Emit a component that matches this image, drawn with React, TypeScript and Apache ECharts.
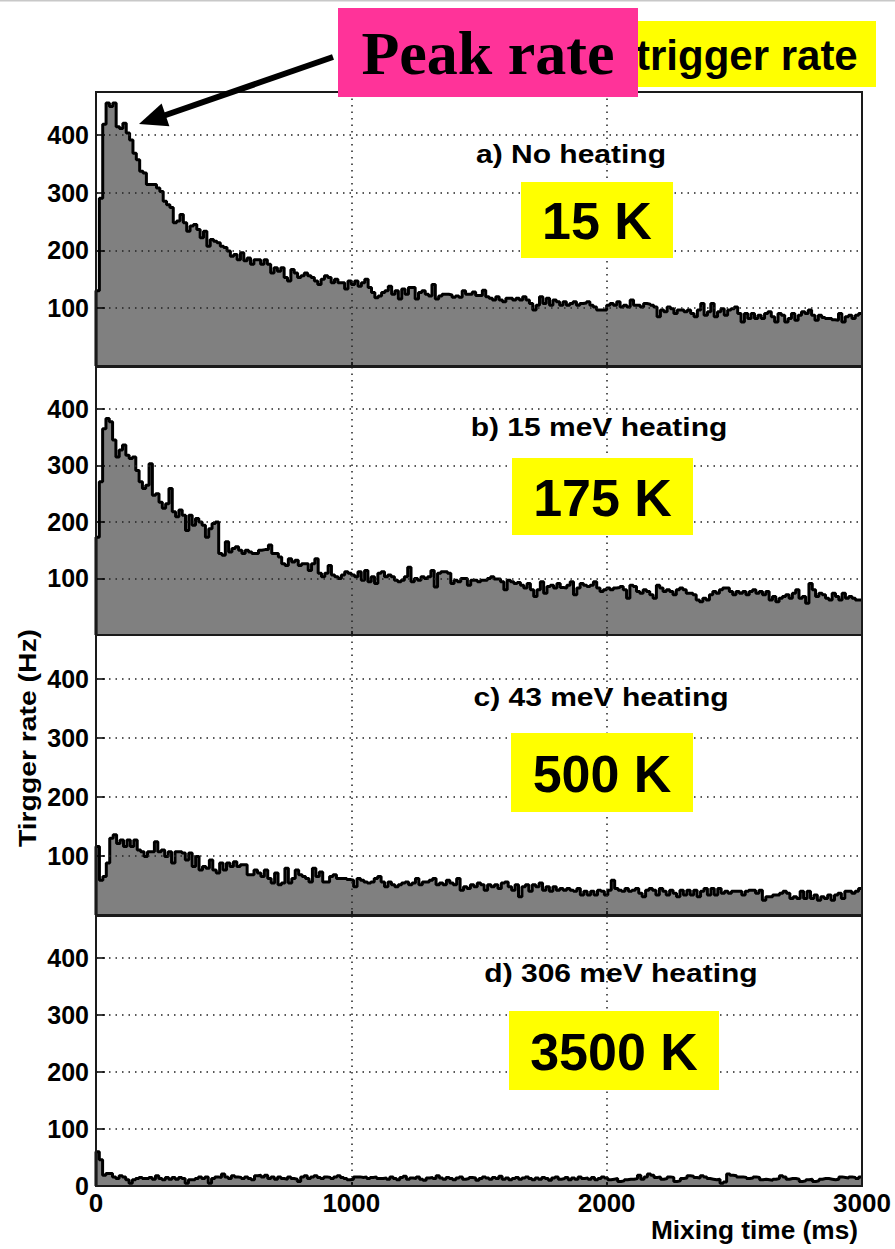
import { useEffect, useRef } from "react";
import * as echarts from "echarts";

// Mixing-time axis (ms) and tick labels
const TIME_MAX = 3000;
const X_TICK_LABELS = [0, 1000, 2000, 3000];
const Y_TICK_LABELS = [100, 200, 300, 400];
const RATE_MAX = 474;

const panelLabels = ["a) No heating", "b) 15 meV heating", "c) 43 meV heating", "d) 306 meV heating"];
const temperatures = ["15 K", "175 K", "500 K", "3500 K"];

// Trigger rate (Hz) per time bin, equal-width bins spanning 0-3000 ms
const rateNoHeating = [
  130, 290, 418, 455, 449, 455, 414, 411, 420, 403,
  391, 368, 357, 337, 334, 314, 314, 314, 308, 302,
  285, 279, 274, 248, 251, 262, 248, 233, 242, 245,
  236, 222, 233, 207, 219, 216, 213, 207, 205, 199,
  190, 193, 184, 196, 182, 187, 176, 184, 184, 176,
  184, 176, 161, 170, 164, 170, 153, 147, 167, 161,
  153, 156, 161, 156, 153, 147, 141, 150, 156, 153,
  144, 150, 144, 144, 133, 147, 141, 147, 138, 144,
  150, 136, 127, 118, 121, 127, 130, 138, 124, 130,
  116, 133, 124, 136, 136, 116, 127, 130, 124, 121,
  141, 116, 121, 124, 124, 123, 119, 121, 119, 130,
  124, 124,
  128, 122, 122, 131, 120, 117, 114, 120, 114, 111,
  117, 117, 114, 117, 114, 120, 114, 108, 97, 105,
  120, 108, 117, 105, 114, 111, 105, 111, 105, 108,
  111, 105, 108, 109, 111, 105, 102, 97, 97, 97,
  105, 108, 105, 111, 102, 105, 102, 114, 105, 105,
  102, 108, 107, 105, 102, 85, 97, 94, 102, 99,
  91, 97, 97, 94, 97, 91, 85, 97, 108, 88,
  94, 108, 85, 94, 99, 88, 97, 99, 102, 91,
  76, 91, 82, 91, 82, 88, 82, 91, 94, 85,
  76, 91, 88, 76, 82, 91, 79, 88, 94, 91,
  97, 88, 79, 88, 84, 82, 82, 80, 79, 91,
  76, 85, 88, 82, 88, 91,
];

const rate15meV = [
  173, 271, 365, 383, 377, 345, 315, 327, 336, 318,
  312, 315, 291, 271, 259, 265, 303, 247, 250, 235,
  224, 232, 259, 218, 209, 221, 212, 185, 212, 194,
  206, 200, 194, 173, 188, 197, 200, 144, 141, 165,
  147, 153, 156, 150, 144, 150, 147, 144, 144, 150,
  151, 151, 159, 144, 144, 138, 126, 123, 135, 129,
  132, 123, 126, 126, 114, 126, 135, 109, 103, 109,
  123, 106, 103, 100, 106, 112, 109, 106, 103, 112,
  97, 114, 94, 103, 91, 109, 112, 103, 106, 103,
  97, 94, 97, 103, 120, 94, 100, 97, 103, 100,
  103, 114, 85, 109, 112, 112, 109, 91, 97, 94,
  100, 100, 88, 97,
  97, 94, 97, 97, 100, 103, 99, 99, 94, 80,
  97, 94, 91, 93, 88, 83, 91, 80, 68, 80,
  94, 74, 86, 88, 83, 91, 84, 83, 88, 94,
  71, 83, 91, 88, 86, 88, 94, 83, 77, 80,
  83, 80, 83, 84, 86, 80, 65, 88, 86, 77,
  74, 80, 77, 71, 65, 88, 83, 77, 80, 77,
  71, 80, 83, 80, 74, 74, 71, 62, 59, 65,
  62, 71, 77, 74, 80, 83, 83, 77, 71, 77,
  74, 77, 71, 77, 80, 74, 77, 71, 77, 62,
  68, 59, 65, 68, 71, 65, 74, 80, 65, 68,
  56, 91, 80, 68, 74, 71, 65, 62, 74, 68,
  62, 74, 65, 68, 65, 62, 62,
];

const rate43meV = [
  116, 59, 65, 88, 130, 136, 121, 127, 116, 127,
  116, 127, 110, 107, 99, 107, 107, 124, 107, 110,
  99, 107, 88, 107, 107, 105, 93, 105, 82, 99,
  76, 82, 79, 93, 76, 71, 88, 76, 88, 82,
  90, 82, 85, 85, 68, 68, 76, 71, 65, 76,
  62, 54, 71, 51, 54, 79, 54, 62, 76, 68,
  65, 62, 56, 79, 65, 73, 56, 56, 65, 68,
  62, 62, 62, 60, 59, 48, 62, 59, 56, 54,
  56, 62, 65,
  56, 48, 56, 51, 48, 51, 54, 56, 51, 54,
  62, 51, 56, 56, 59, 62, 51, 54, 51, 59,
  54, 51, 62, 42, 48, 45, 51, 48, 54, 51,
  42, 51, 48, 51, 45, 54, 56, 48, 42, 51,
  31, 48, 51, 40, 51, 48, 54, 42, 48, 40,
  48, 42, 45, 42, 45, 42, 40, 45, 34, 40,
  34, 40, 34, 42, 40, 34, 42, 59, 45, 42,
  40, 45, 40, 42, 45, 37, 31, 42, 45, 42,
  34, 45, 40, 34, 42, 37, 31, 42, 34, 42,
  34, 42, 31, 40, 45, 34, 45, 34, 45, 37,
  40, 37, 40, 40, 40, 34, 40, 42, 42, 37,
  42, 25, 31, 31, 34, 34, 37, 40, 37, 28,
  31, 28, 40, 28, 40, 28, 34, 25, 31, 28,
  34, 25, 34, 37, 28, 40, 40, 37, 40, 45,
];

const rate306meV = [
  60, 46, 19, 22, 22, 16, 13, 18, 16, 11,
  5, 11, 13, 15, 13, 13, 15, 12, 18, 13,
  11, 15, 12, 15, 12, 15, 13, 5, 11, 11,
  13, 16, 13, 16, 5, 13, 16, 15, 21, 16,
  13, 18, 16, 15, 13, 16, 13, 11, 18, 19,
  16, 19, 13, 16, 12, 16, 13, 12, 16, 13,
  12, 8, 16, 18, 13, 16, 18, 15, 13, 16,
  15, 13, 16, 18, 15, 13, 11, 12, 16, 16,
  15, 16, 13, 15, 16, 13, 13,
  14, 12, 16, 13, 11, 15, 17, 12, 14, 13,
  16, 12, 10, 14, 15, 13, 18, 14, 12, 15,
  13, 11, 14, 16, 12, 13, 15, 14, 10, 13,
  16, 14, 12, 15, 13, 17, 12, 14, 11, 13,
  15, 12, 14, 16, 13, 11, 14, 12, 15, 13,
  10, 14, 16, 12, 13, 15, 11, 14, 12, 16,
  13, 14, 12, 15, 11, 13,
  16, 14, 11, 12, 13, 8, 9, 11, 12, 12,
  13, 19, 12, 16, 21, 19, 15, 16, 12, 13,
  16, 15, 8, 9, 13, 14, 18, 17, 15, 14,
  18, 16, 13, 12, 11, 12, 5, 7, 21, 19,
  18, 16, 16, 15, 13, 14, 16, 15, 11, 12,
  11, 10, 12, 13, 18, 16, 12, 13, 13, 12,
  8, 9, 11, 12, 8, 9, 12, 13, 13, 12,
  11, 12, 16, 15, 14, 16, 15, 13, 16,
];

const panelRates = [rateNoHeating, rate15meV, rate43meV, rate306meV];

// Histogram outline: left bin edges with the bin content, closed at the right edge
function histogramPoints(values: number[]): number[][] {
  const width = TIME_MAX / values.length;
  const pts: number[][] = [[0, 0]];
  values.forEach((v, i) => pts.push([i * width, v]));
  pts.push([TIME_MAX, values[values.length - 1]]);
  return pts;
}

const SANS = "'Liberation Sans', Arial, Helvetica, sans-serif";
const SERIF = "'Liberation Serif', 'Times New Roman', serif";

// Pixel boxes of the four stacked panels
const PANELS = [
  { left: 96, top: 92, width: 766, height: 274 },
  { left: 96, top: 367, width: 766, height: 268 },
  { left: 96, top: 635, width: 766, height: 280 },
  { left: 96, top: 916, width: 766, height: 270 },
];

const LABEL_POS = [
  { x: 571, y: 154 },
  { x: 599, y: 427 },
  { x: 601, y: 697 },
  { x: 621, y: 973 },
];

const TEMP_BOX = [
  { x: 521, y: 182, w: 152, h: 76 },
  { x: 512, y: 458, w: 181, h: 77 },
  { x: 511, y: 733, w: 182, h: 79 },
  { x: 509, y: 1011, w: 210, h: 79 },
];

const dotted = { color: "#222", width: 1.5, type: [1.5, 5] as number[] };

export default function App() {
  const ref = useRef<HTMLDivElement>(null);

  useEffect(() => {
    if (!ref.current) return;
    const chart = echarts.init(ref.current, null, { renderer: "svg" });

    const grids = PANELS.map((p) => ({ ...p, containLabel: false }));

    const xAxes = PANELS.map((_, i) => ({
      type: "value",
      gridIndex: i,
      min: 0,
      max: TIME_MAX,
      interval: 1000,
      axisLine: { show: false },
      axisTick: { show: true, inside: true, length: 4, lineStyle: { color: "#000", width: 1.5 } },
      axisLabel: {
        show: i === 3,
        margin: 4,
        color: "#000",
        fontSize: 26,
        fontWeight: "bold",
        fontFamily: SANS,
        showMinLabel: true,
        showMaxLabel: true,
        formatter: (v: number) => (X_TICK_LABELS.includes(v) ? String(v) : ""),
      },
      splitLine: { show: true, lineStyle: dotted },
      z: 10,
    }));

    const yAxes = PANELS.map((_, i) => ({
      type: "value",
      gridIndex: i,
      min: 0,
      max: RATE_MAX,
      interval: 100,
      axisLine: { show: false },
      axisTick: { show: true, inside: true, length: 9, lineStyle: { color: "#000", width: 1.5 } },
      axisLabel: {
        margin: 7,
        color: "#000",
        fontSize: 25,
        fontWeight: "bold",
        fontFamily: SANS,
        showMinLabel: i === 3,
        showMaxLabel: false,
        formatter: (v: number) =>
          Y_TICK_LABELS.includes(v) || (v === 0 && i === 3) ? String(v) : "",
      },
      splitLine: { show: true, lineStyle: dotted },
      z: 10,
    }));

    const series = panelRates.map((vals, i) => ({
      type: "line",
      xAxisIndex: i,
      yAxisIndex: i,
      step: "end",
      symbol: "none",
      silent: true,
      data: histogramPoints(vals),
      lineStyle: { color: "#000", width: 3 },
      areaStyle: { color: "#808080", opacity: 1 },
      z: 2,
    }));

    const graphics: any[] = [
      {
        type: "line",
        shape: { x1: 0, y1: 0.5, x2: 895, y2: 0.5 },
        style: { stroke: "#c8c8c8", lineWidth: 2 },
        z: 50,
      },
    ];

    PANELS.forEach((p, i) => {
      graphics.push({
        type: "rect",
        shape: { x: p.left, y: p.top, width: p.width, height: p.height },
        style: { fill: "none", stroke: "#1a1a1a", lineWidth: 2 },
        z: 60,
      });
      graphics.push({
        type: "text",
        x: LABEL_POS[i].x,
        y: LABEL_POS[i].y,
        scaleX: 1.2,
        style: {
          text: panelLabels[i],
          fill: "#000",
          fontSize: 25,
          fontWeight: "bold",
          fontFamily: SANS,
          align: "center",
          verticalAlign: "middle",
        },
        z: 70,
      });
      const b = TEMP_BOX[i];
      graphics.push({
        type: "rect",
        shape: { x: b.x, y: b.y, width: b.w, height: b.h },
        style: { fill: "#FFFF00" },
        z: 70,
      });
      graphics.push({
        type: "text",
        x: b.x + b.w / 2,
        y: b.y + b.h / 2 + 1,
        style: {
          text: temperatures[i],
          fill: "#000",
          fontSize: 52,
          fontWeight: "bold",
          fontFamily: SANS,
          align: "center",
          verticalAlign: "middle",
        },
        z: 71,
      });
    });

    // Axis titles
    graphics.push({
      type: "text",
      x: 28,
      y: 738,
      rotation: Math.PI / 2,
      scaleX: 1.18,
      style: {
        text: "Tirgger rate (Hz)",
        fill: "#000",
        fontSize: 24,
        fontWeight: "bold",
        fontFamily: SANS,
        align: "center",
        verticalAlign: "middle",
      },
      z: 70,
    });
    graphics.push({
      type: "text",
      x: 858,
      y: 1230,
      scaleX: 1.05,
      style: {
        text: "Mixing time (ms)",
        fill: "#000",
        fontSize: 25,
        fontWeight: "bold",
        fontFamily: SANS,
        align: "right",
        verticalAlign: "middle",
      },
      z: 70,
    });

    // Title boxes and arrow
    graphics.push({
      type: "rect",
      shape: { x: 634, y: 21, width: 242, height: 66 },
      style: { fill: "#FFFF00" },
      z: 80,
    });
    graphics.push({
      type: "text",
      x: 636,
      y: 55,
      style: {
        text: "trigger rate",
        fill: "#000",
        fontSize: 42,
        fontWeight: "bold",
        fontFamily: SANS,
        align: "left",
        verticalAlign: "middle",
      },
      z: 81,
    });
    graphics.push({
      type: "rect",
      shape: { x: 338, y: 8, width: 300, height: 89 },
      style: { fill: "#FF3399" },
      z: 82,
    });
    graphics.push({
      type: "text",
      x: 488,
      y: 53,
      style: {
        text: "Peak rate",
        fill: "#000",
        fontSize: 62,
        fontWeight: "bold",
        fontFamily: SERIF,
        align: "center",
        verticalAlign: "middle",
      },
      z: 83,
    });
    graphics.push({
      type: "line",
      shape: { x1: 333, y1: 57, x2: 160, y2: 117 },
      style: { stroke: "#000", lineWidth: 6 },
      z: 84,
    });
    graphics.push({
      type: "polygon",
      shape: { points: [[139, 124], [161.6, 103.4], [169.4, 126.2]] },
      style: { fill: "#000" },
      z: 84,
    });

    chart.setOption({
      animation: false,
      backgroundColor: "#fff",
      grid: grids,
      xAxis: xAxes,
      yAxis: yAxes,
      series,
      graphic: graphics,
    });

    return () => chart.dispose();
  }, []);

  return (
    <div
      ref={ref}
      style={{ position: "absolute", left: 0, top: 0, width: 895, height: 1249 }}
    />
  );
}
